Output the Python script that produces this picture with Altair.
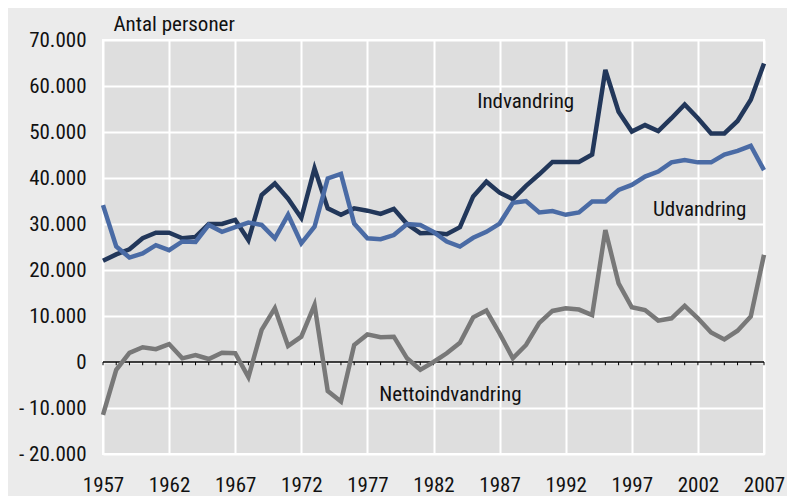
import altair as alt
import pandas as pd

years = list(range(1957, 2008))
indvandring = [22000, 23400, 24500, 26900, 28100, 28100, 26900, 27200, 30000, 30000,
               30900, 26500, 36300, 38800, 35500, 31300, 42100, 33400, 32000, 33400,
               32900, 32200, 33300, 30000, 28000, 28100, 27800, 29300, 36000, 39200,
               36800, 35400, 38300, 40800, 43500, 43500, 43500, 45100, 63500, 54400,
               50100, 51500, 50200, 53000, 56000, 53000, 49700, 49700, 52400, 57000, 64900]
udvandring = [34100, 25100, 22700, 23600, 25400, 24300, 26200, 26100, 29800, 28300,
              29300, 30300, 29800, 26900, 32000, 25800, 29400, 39900, 40900, 30100,
              26900, 26700, 27600, 30000, 29800, 28300, 26200, 25100, 27000, 28300,
              30100, 34600, 35000, 32500, 32800, 32000, 32500, 34900, 34900, 37400,
              38500, 40300, 41400, 43400, 43900, 43400, 43400, 45100, 45900, 47000, 41700]
nettoindvandring = [-11500, -1700, 2000, 3200, 2800, 3900, 800, 1500, 650, 2000,
                    1900, -3300, 7000, 11700, 3500, 5500, 12400, -6300, -8600, 3700,
                    6000, 5400, 5500, 800, -1700, 0, 1900, 4200, 9700, 11200,
                    6200, 800, 3700, 8500, 11100, 11700, 11400, 10200, 28700, 17100,
                    11900, 11300, 9000, 9500, 12200, 9500, 6400, 4900, 6800, 9900, 23300]

series_names = ["Indvandring", "Udvandring", "Nettoindvandring"]
series_colors = ["#22375a", "#4a6ba5", "#787878"]
x_ticks = list(range(1957, 2008, 5))
y_ticks = list(range(-20000, 70001, 10000))

rows = []
for name, vals in zip(series_names, [indvandring, udvandring, nettoindvandring]):
    for yr, v in zip(years, vals):
        rows.append({"year": yr, "value": v, "series": name})
df = pd.DataFrame(rows)
df_years = pd.DataFrame({"year": years})
df_one = pd.DataFrame({"k": [0]})

FONT = "Liberation Sans Narrow, Roboto Condensed, DejaVu Sans Condensed, sans-serif"
FS = 21

x_scale = alt.Scale(domain=[1957, 2007], nice=False, zero=False)
y_scale = alt.Scale(domain=[-20000, 70000], nice=False)

label_expr = ("datum.value < 0 ? '- ' + replace(format(-datum.value, ','), ',', '.') "
              ": replace(format(datum.value, ','), ',', '.')")

x_axis = alt.Axis(values=x_ticks, format="d", title=None, labelPadding=20,
                  grid=True, gridColor="white", gridWidth=2, domain=False, ticks=False,
                  labelFont=FONT, labelFontSize=FS, labelColor="#111111", labelFlush=False)
y_axis = alt.Axis(values=y_ticks, labelExpr=label_expr, title="Antal personer",
                  titleAngle=0, titleAlign="left", titleBaseline="alphabetic",
                  titleX=10, titleY=-10, titleFont=FONT, titleFontSize=FS,
                  titleFontWeight="normal", titleColor="#111111",
                  labelPadding=17, grid=True, gridColor="white", gridWidth=2,
                  domain=False, ticks=False, labelFont=FONT, labelFontSize=FS,
                  labelColor="#111111")

zero_rule = alt.Chart(df_one).mark_rule(color="black", strokeWidth=1.5).encode(
    y=alt.datum(0, scale=y_scale),
)
zero_ticks = alt.Chart(df_years).mark_rule(color="black", strokeWidth=1).encode(
    x=alt.X("year:Q", scale=x_scale),
    y=alt.datum(0),
    y2=alt.datum(-700),
)

lines = alt.Chart(df).mark_line(strokeWidth=4.5, strokeCap="butt", strokeJoin="miter").encode(
    x=alt.X("year:Q", scale=x_scale, axis=x_axis),
    y=alt.Y("value:Q", scale=y_scale, axis=y_axis),
    color=alt.Color("series:N", scale=alt.Scale(domain=series_names, range=series_colors),
                    legend=None),
)

def label(text, xv, yv):
    return alt.Chart(df_one).mark_text(
        text=text, align="left", baseline="middle", font=FONT, fontSize=FS, color="#111111"
    ).encode(x=alt.datum(xv), y=alt.datum(yv))

chart = alt.layer(
    zero_rule,
    zero_ticks,
    lines,
    label("Indvandring", 1985.3, 56500),
    label("Udvandring", 1998.6, 33000),
    label("Nettoindvandring", 1977.9, -7200),
).properties(
    width=661, height=414,
    background="#ebebeb",
    autosize=alt.AutoSizeParams(type="none"),
    padding={"left": 95, "top": 32, "right": 23, "bottom": 42},
).configure_view(
    fill="#dedede", stroke="white", strokeWidth=2
)

chart.save("out.html", embed_options={"renderer": "svg", "actions": False})
